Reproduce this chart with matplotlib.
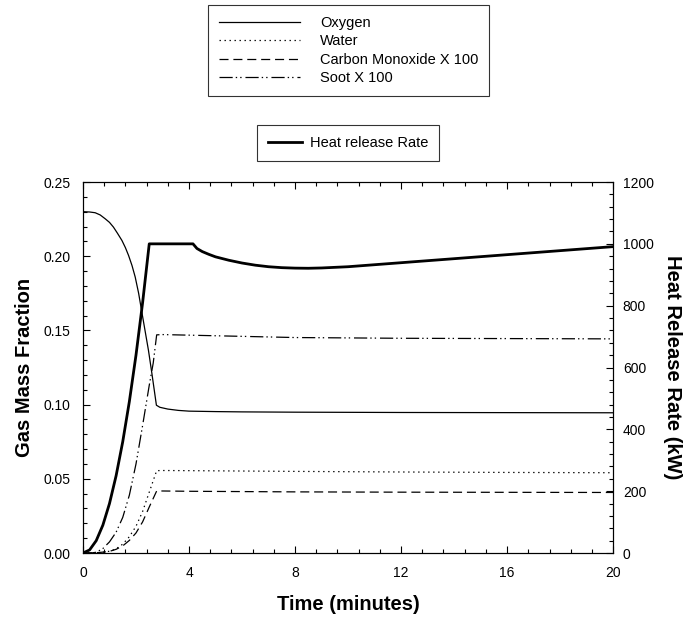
import matplotlib
matplotlib.use("Agg")
import matplotlib.pyplot as plt
from matplotlib.ticker import MultipleLocator

plt.rcParams['font.family'] = ['Liberation Sans', 'DejaVu Sans']
plt.rcParams['lines.scale_dashes'] = False

# oxygen mass fraction
t_o2 = [0, 0.25, 0.46, 0.65, 0.84, 1.0, 1.15, 1.3, 1.47, 1.6, 1.72, 1.85, 1.97, 2.1, 2.22,
        2.35, 2.47, 2.6, 2.77, 2.9, 3.2, 3.6, 4.0, 5.0, 6.0, 8.0, 12.0, 16.0, 20.0]
o2 = [0.230, 0.2298, 0.2293, 0.2278, 0.2252, 0.2228, 0.2196, 0.2155, 0.2106, 0.2058, 0.2005,
      0.1937, 0.186, 0.175, 0.1624, 0.149, 0.1366, 0.121, 0.0996, 0.0982, 0.0970, 0.0961,
      0.0956, 0.0953, 0.0951, 0.0949, 0.0947, 0.0946, 0.0945]

# water mass fraction
t_h2o = [0, 0.5, 0.75, 1.0, 1.25, 1.5, 1.75, 2.0, 2.25, 2.5, 2.78, 3.0, 4.0, 8.0, 12.0, 16.0, 20.0]
h2o = [0, 0.0, 0.0005, 0.0012, 0.0028, 0.0060, 0.011, 0.018, 0.028, 0.041, 0.0555,
       0.0556, 0.0555, 0.0550, 0.0546, 0.0543, 0.0541]

# carbon monoxide x 100
t_co = [0, 0.5, 0.75, 1.0, 1.25, 1.5, 1.75, 2.0, 2.25, 2.5, 2.78, 3.0, 4.0, 8.0, 12.0, 16.0, 20.0]
co = [0, 0.0002, 0.0006, 0.0011, 0.0025, 0.0048, 0.0085, 0.0135, 0.021, 0.031, 0.0418,
      0.0418, 0.0416, 0.0412, 0.0410, 0.0409, 0.0408]

# soot x 100
t_soot = [0, 0.3, 0.5, 0.75, 1.0, 1.25, 1.5, 1.75, 2.0, 2.25, 2.5, 2.65, 2.78, 3.0, 4.0,
          6.0, 8.0, 12.0, 16.0, 20.0]
soot = [0, 0.0, 0.0005, 0.003, 0.0075, 0.014, 0.024, 0.039, 0.060, 0.086, 0.113, 0.128, 0.147,
        0.1472, 0.1468, 0.146, 0.1452, 0.1447, 0.1445, 0.1443]

# heat release rate (kW)
t_hrr = [0, 0.25, 0.5, 0.75, 1.0, 1.25, 1.5, 1.75, 2.0, 2.25, 2.5, 4.15, 4.3, 4.5, 4.75, 5.0,
         5.5, 6.0, 6.5, 7.0, 7.5, 8.0, 8.5, 9.0, 10.0, 12.0, 14.0, 16.0, 18.0, 20.0]
hrr = [0, 10, 40, 90, 160, 250, 360, 490, 640, 810, 1000, 1000, 985, 975, 966, 958,
       947, 938, 931, 926, 923, 921.5, 921, 922, 926, 939, 952, 965, 978, 991]

fig = plt.figure(figsize=(6.88, 6.17), dpi=100)
ax = fig.add_axes([0.1206, 0.1037, 0.7706, 0.6013])
ax2 = ax.twinx()

l1, = ax.plot(t_o2, o2, color='black', lw=0.9, label='Oxygen')
l2, = ax.plot(t_h2o, h2o, color='black', lw=0.9, linestyle=(0, (1.0, 2.6)), label='Water')
l3, = ax.plot(t_co, co, color='black', lw=0.9, linestyle=(0, (6.5, 3.5)), label='Carbon Monoxide X 100')
l4, = ax.plot(t_soot, soot, color='black', lw=0.9,
              linestyle=(0, (9.5, 2.2, 1.0, 2.2, 1.0, 2.8)), label='Soot X 100')
l5, = ax2.plot(t_hrr, hrr, color='black', lw=2.0, label='Heat release Rate')

ax.set_xlim(0, 20)
ax.set_ylim(0, 0.25)
ax2.set_ylim(0, 1200)
ax.xaxis.set_major_locator(MultipleLocator(4))
ax.xaxis.set_minor_locator(MultipleLocator(0.8))
ax.yaxis.set_major_locator(MultipleLocator(0.05))
ax.yaxis.set_minor_locator(MultipleLocator(0.01))
ax2.yaxis.set_major_locator(MultipleLocator(200))
ax2.yaxis.set_minor_locator(MultipleLocator(40))
ax.yaxis.set_major_formatter(plt.FormatStrFormatter('%.2f'))

ax.tick_params(which='both', direction='in', top=True, right=False, labelsize=10, width=0.8)
ax.tick_params(which='major', length=5)
ax.tick_params(which='minor', length=3)
ax.tick_params(axis='y', pad=9)
ax.tick_params(axis='x', pad=9.5)
ax2.tick_params(which='both', direction='in', labelsize=10, width=0.8, pad=7)
ax2.tick_params(which='major', length=5)
ax2.tick_params(which='minor', length=3)

ax.set_xlabel('Time (minutes)', fontsize=14.5, fontweight='bold', labelpad=11)
ax.set_ylabel('Gas Mass Fraction', fontsize=14.5, fontweight='bold', labelpad=7)
ax2.set_ylabel('Heat Release Rate (kW)', fontsize=14.5, fontweight='bold', rotation=270,
               labelpad=20)

leg1 = fig.legend(handles=[l1, l2, l3, l4], loc='center', bbox_to_anchor=(0.5066, 0.918),
                  fontsize=10.5, frameon=True, fancybox=False, edgecolor='black',
                  handlelength=5.6, handletextpad=1.37, labelspacing=0.3, borderpad=0.75)
leg1.get_frame().set_linewidth(0.8)
leg2 = fig.legend(handles=[l5], loc='center', bbox_to_anchor=(0.5058, 0.768),
                  fontsize=10.5, frameon=True, fancybox=False, edgecolor='black',
                  handlelength=2.3, handletextpad=0.55, borderpad=0.75)
leg2.get_frame().set_linewidth(0.8)

fig.savefig('out.png', dpi=100)
